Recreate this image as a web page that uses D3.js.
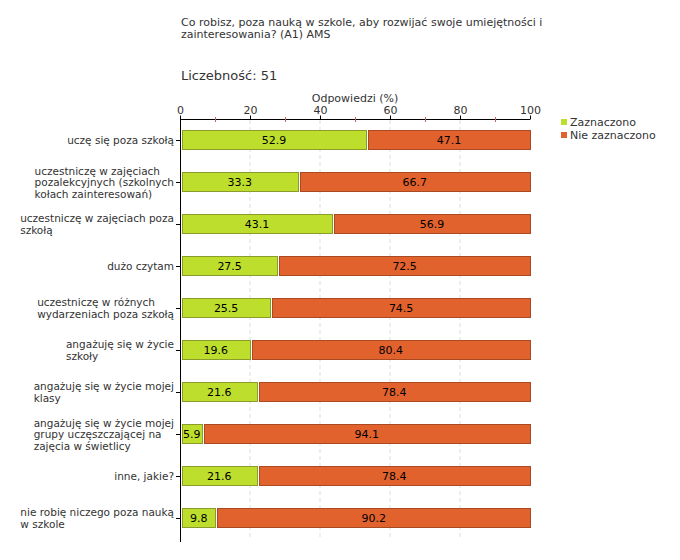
<!DOCTYPE html>
<html><head><meta charset="utf-8">
<script src="https://cdn.jsdelivr.net/npm/d3@7"></script>
<style>body{margin:0;background:#fff;}svg{display:block;font-family:"DejaVu Sans",Verdana,sans-serif;}</style>
</head><body><svg id="c" width="680" height="560"></svg>
<script>
const categories = [
  "uczę się poza szkołą",
  "uczestniczę w zajęciach\npozalekcyjnych (szkolnych\nkołach zainteresowań)",
  "uczestniczę w zajęciach poza\nszkołą",
  "dużo czytam",
  "uczestniczę w różnych\nwydarzeniach poza szkołą",
  "angażuję się w życie\nszkoły",
  "angażuję się w życie mojej\nklasy",
  "angażuję się w życie mojej\ngrupy uczęszczającej na\nzajęcia w świetlicy",
  "inne, jakie?",
  "nie robię niczego poza nauką\nw szkole"
];
const zaznaczono = [52.9, 33.3, 43.1, 27.5, 25.5, 19.6, 21.6, 5.9, 21.6, 9.8];
const nieZaznaczono = [47.1, 66.7, 56.9, 72.5, 74.5, 80.4, 78.4, 94.1, 78.4, 90.2];
const seriesNames = ["Zaznaczono", "Nie zaznaczono"];
const colors = ["#bede2e", "#e2622e"];
const strokes = ["#8c9c2a", "#a84a22"];
const xTicks = [0, 20, 40, 60, 80, 100];
const minorTicks = [10, 30, 50, 70, 90];

const svg = d3.select("#c");
const x = d3.scaleLinear().domain([0, 100]).range([180, 530]);
const y = d3.scaleBand().domain(categories).range([119, 539]).paddingInner(0.5238).paddingOuter(0.2619);

// title
const title = svg.append("text").attr("x", 181).attr("y", 26).attr("font-size", 11).attr("fill", "#333");
title.append("tspan").attr("x", 181).attr("dy", 0).text("Co robisz, poza nauką w szkole, aby rozwijać swoje umiejętności i");
title.append("tspan").attr("x", 181).attr("dy", 12).text("zainteresowania? (A1) AMS");
svg.append("text").attr("x", 181).attr("y", 80).attr("font-size", 13).attr("fill", "#333").text("Liczebność: 51");
svg.append("text").attr("x", x(50)).attr("y", 102).attr("text-anchor", "middle").attr("font-size", 11).attr("fill", "#333").text("Odpowiedzi (%)");

// grid
svg.append("g").selectAll("line").data(xTicks.filter(d => d > 0 && d < 100)).join("line")
  .attr("x1", d => x(d)).attr("x2", d => x(d)).attr("y1", 120).attr("y2", 539)
  .attr("stroke", "#ddd").attr("stroke-dasharray", "4,3");

// top axis
const ax = svg.append("g").attr("transform", "translate(0,119.5)")
  .call(d3.axisTop(x).tickValues(xTicks).tickSize(4).tickPadding(2));
ax.select(".domain").attr("stroke", "#000").attr("d", "M180,0H530");
ax.selectAll(".tick line").attr("stroke", "#000");
ax.selectAll(".tick text").attr("font-size", 11).attr("fill", "#333").attr("font-family", "DejaVu Sans, Verdana, sans-serif");
svg.append("g").selectAll("line").data(minorTicks).join("line")
  .attr("x1", d => Math.round(x(d)) + 0.5).attr("x2", d => Math.round(x(d)) + 0.5).attr("y1", 117).attr("y2", 122)
  .attr("stroke", "#d06060").attr("stroke-width", 1);

// left axis
svg.append("line").attr("x1", 180.5).attr("x2", 180.5).attr("y1", 119).attr("y2", 542).attr("stroke", "#000");
svg.append("g").selectAll("line").data(categories).join("line")
  .attr("x1", 176).attr("x2", 180).attr("y1", d => Math.round(y(d) + y.bandwidth() / 2) + 0.5).attr("y2", d => Math.round(y(d) + y.bandwidth() / 2) + 0.5)
  .attr("stroke", "#000");

// category labels
categories.forEach(c => {
  const lines = c.split("\n");
  const cy = y(c) + y.bandwidth() / 2;
  const g = svg.append("g");
  const t = g.append("text").attr("font-size", 10.5).attr("fill", "#333");
  lines.forEach((l, i) => {
    t.append("tspan").attr("x", 0).attr("y", cy + (i - (lines.length - 1) / 2) * 11.5 + 4).text(l);
  });
  const w = t.node().getBBox().width;
  t.attr("transform", `translate(${174 - w},0)`);
});

// bars
const rows = categories.map((c, i) => ({ c, a: zaznaczono[i], b: nieZaznaczono[i] }));
const bars = svg.append("g");
rows.forEach(r => {
  const y0 = Math.round(y(r.c)) + 0.5;
  const h = Math.round(y.bandwidth()) - 1;
  const segs = [
    { x0: x(0) + 2, x1: x(r.a) + 1, v: r.a, k: 0 },
    { x0: x(r.a) + 3, x1: x(r.a + r.b), v: r.b, k: 1 }
  ];
  segs.forEach(s => {
    bars.append("rect").attr("x", Math.round(s.x0) + 0.5).attr("y", y0)
      .attr("width", Math.round(s.x1) - Math.round(s.x0)).attr("height", h)
      .attr("fill", colors[s.k]).attr("stroke", strokes[s.k]).attr("stroke-width", 1);
    bars.append("text").attr("x", (s.x0 + s.x1) / 2).attr("y", y0 + h / 2 + 4)
      .attr("text-anchor", "middle").attr("font-size", 11).attr("fill", "#000").text(s.v.toFixed(1));
  });
});

// legend
const lg = svg.append("g");
seriesNames.forEach((n, i) => {
  lg.append("rect").attr("x", 561).attr("y", 119 + i * 13).attr("width", 6).attr("height", 6).attr("fill", colors[i]);
  lg.append("text").attr("x", 570).attr("y", 126 + i * 13).attr("font-size", 11).attr("fill", "#333").text(n);
});
</script></body></html>
